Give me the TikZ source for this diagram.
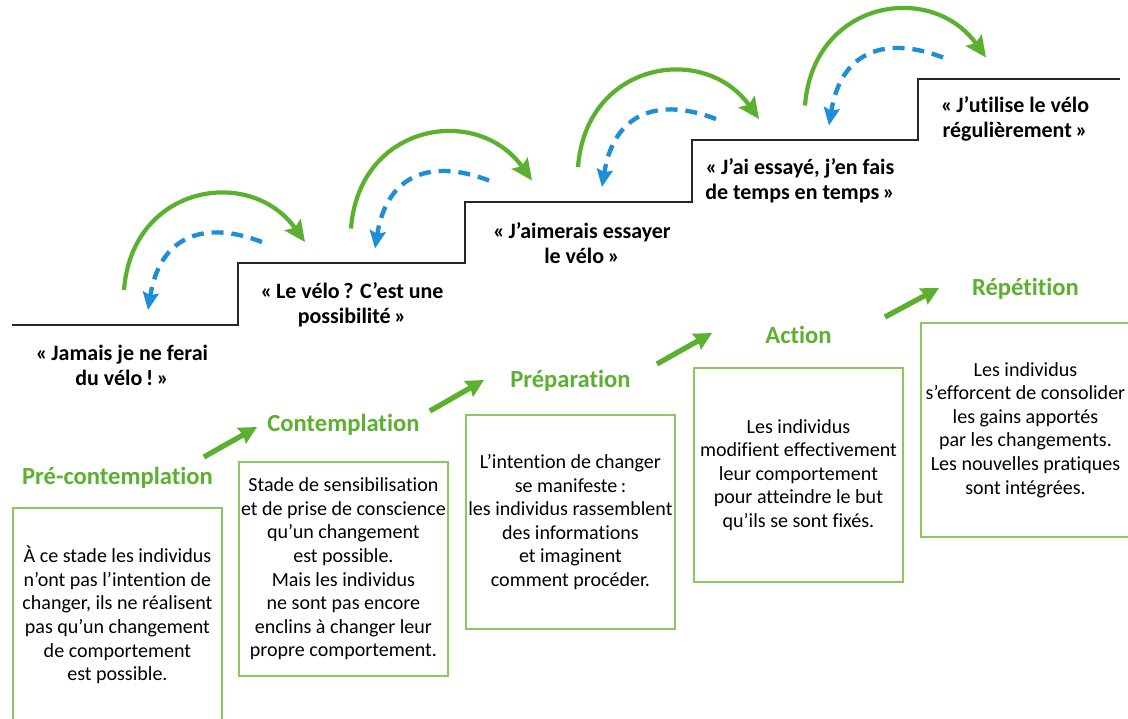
\documentclass[tikz,border=0pt]{standalone}
\usepackage{fontspec}
\setmainfont[Ligatures=NoCommon]{Carlito}
\usetikzlibrary{positioning,calc,arrows.meta}
\definecolor{stagegreen}{HTML}{5BB12F}
\definecolor{boxgreen}{HTML}{8CC862}
\definecolor{backblue}{HTML}{1F8ED8}
\tikzset{
    stagebox/.style={draw=boxgreen,line width=1.1pt,anchor=north west,inner sep=0pt,
        minimum width=4.18cm,minimum height=4.28cm,align=center,
        font=\fontsize{11.4}{13.4}\selectfont},
    stagetitle/.style={text=stagegreen,inner sep=0pt,font=\fontsize{14}{16}\selectfont\bfseries},
    saying/.style={align=center,inner sep=0pt,font=\fontsize{12.5}{14.2}\selectfont\bfseries},
    forward/.style={draw=stagegreen,line width=2.4pt,-{Stealth[length=12pt,width=11pt,inset=2pt]}},
    relapse/.style={draw=backblue,line width=2.5pt,dash pattern=on 6.8pt off 4.5pt,
        -{Stealth[length=10pt,width=9pt,inset=1.5pt]}},
    stepup/.style={draw=stagegreen,line width=3pt,-{Stealth[length=10pt,width=10pt,inset=1pt]}}
}
\begin{document}
\begin{tikzpicture}[x=0.02cm,y=-0.02cm]
    \useasboundingbox[fill=white] (0,0) rectangle (1128,718);
    %% the stairs
    \draw[line width=1.3pt,color=black!85] (12,325) -- (238,325) -- (238,263) -- (465,263)
        -- (465,202) -- (692,202) -- (692,140) -- (918,140) -- (918,79) -- (1120,79);
    %% what people say on each step
    \foreach \x/\y/\t in {122/365/{«\,Jamais je ne ferai\\du vélo\,!\,»},
        352/305/{«\,Le vélo\,? C’est une\\possibilité\,»},
        582/243/{«\,J’aimerais essayer\\le vélo\,»},
        800/181/{«\,J’ai essayé, j’en fais\\de temps en temps\,»},
        1015/119/{«\,J’utilise le vélo\\régulièrement\,»}}
        \node[saying] at (\x,\y) {\t};
    %% going up (green) and falling back (blue)
    \foreach \i in {0,...,3} {
        \begin{scope}[shift={(227*\i,-61.5*\i)}]
            \draw[forward] (124,290) .. controls (132,185) and (250,165) .. (305,242);
            \draw[relapse] (262,242) .. controls (205,220) and (160,235) .. (148,310);
        \end{scope}
    }
    %% boxes
    \node[stagebox] (b1) at (12,507) {À ce stade les individus\\n’ont pas l’intention de\\changer, ils ne réalisent\\pas qu’un changement\\de comportement\\est possible.};
    \node[stagebox] (b2) at (238,461) {Stade de sensibilisation\\et de prise de conscience\\qu’un changement\\est possible.\\Mais les individus\\ne sont pas encore\\enclins à changer leur\\propre comportement.};
    \node[stagebox] (b3) at (465,414) {L’intention de changer\\se manifeste\,:\\les individus rassemblent\\des informations\\et imaginent\\comment procéder.};
    \node[stagebox] (b4) at (693,367) {Les individus\\modifient effectivement\\leur comportement\\pour atteindre le but\\qu’ils se sont fixés.};
    \node[stagebox] (b5) at (920,322) {Les individus\\s’efforcent de consolider\\les gains apportés\\par les changements.\\Les nouvelles pratiques\\sont intégrées.};
    %% stage names
    \node[stagetitle,above=0.36cm of b1] (t1) {Pré-contemplation};
    \node[stagetitle,above=0.5cm of b2] (t2) {Contemplation};
    \node[stagetitle,above=0.45cm of b3] (t3) {Préparation};
    \node[stagetitle,above=0.45cm of b4] (t4) {Action};
    \node[stagetitle,above=0.45cm of b5] (t5) {Répétition};
    %% arrows from one stage to the next
    \foreach \a/\b in {b1/b2,b2/b3,b3/b4,b4/b5}
        \draw[stepup] ($(\a.north east)+(-19,-50)$) -- ($(\b.north west)+(19,-34)$);
\end{tikzpicture}
\end{document}
